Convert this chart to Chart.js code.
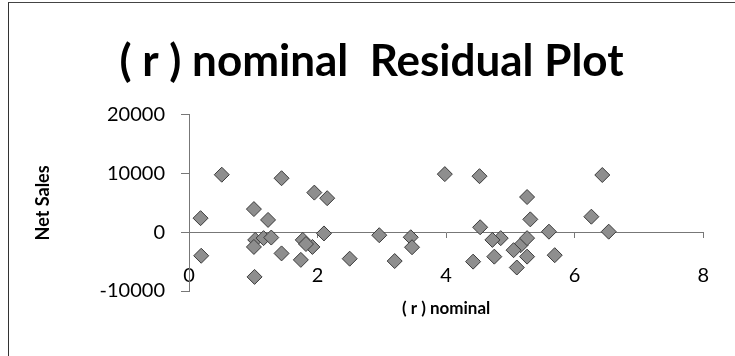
<!DOCTYPE html>
<html>
<head>
<meta charset="utf-8">
<script src="https://cdn.jsdelivr.net/npm/chart.js@4.4.1/dist/chart.umd.min.js"></script>
<style>
  body { margin: 0; background: #fff; }
  #wrap { position: relative; width: 735px; height: 356px; }
  #frame {
    position: absolute; left: 8px; top: 2px; right: 0; bottom: 0;
    border-left: 1px solid #333; border-top: 1px solid #444;
    pointer-events: none;
  }
</style>
</head>
<body>
<div id="wrap">
  <canvas id="chart" width="735" height="356"></canvas>
  <div id="frame"></div>
</div>
<script>
const chartTitle = "( r ) nominal  Residual Plot";
const xTitle = "( r ) nominal";
const yTitle = "Net Sales";

// residual points
const nominal = [
  0.18, 0.19, 0.51, 1.01, 1.23, 1.02, 1.03, 1.01, 1.16, 1.28,
  1.44, 1.44, 1.95, 2.15, 2.10, 1.74, 1.77, 1.92, 1.82, 2.50,
  2.96, 3.45, 3.47, 3.20, 3.98, 4.52, 4.53, 4.42, 4.75, 4.85,
  4.72, 5.10, 5.16, 5.26, 5.26, 5.05, 5.26, 5.31, 5.60, 5.69,
  6.26, 6.43, 6.53
];
const residuals = [
  2400, -4000, 9800, 3950, 2100, -7600, -1300, -2500, -1000, -900,
  9200, -3600, 6750, 5800, -200, -4700, -1300, -2500, -2000, -4500,
  -500, -850, -2550, -4900, 9900, 9550, 850, -5000, -4150, -1000,
  -1300, -6000, -2200, -1000, -4150, -3050, 6000, 2200, 100, -3900,
  2650, 9750, 100
];
const xMin = 0, xMax = 8, xStep = 2;
const yMin = -10000, yMax = 20000, yStep = 10000;

const points = nominal.map((x, i) => ({ x: x, y: residuals[i] }));

const font = "Lato, 'Open Sans', sans-serif";

const config = {
  type: "scatter",
  data: {
    datasets: [
      {
        label: "Residuals",
        data: points,
        pointStyle: "rectRot",
        pointRadius: 7.5,
        backgroundColor: "#8e8e8e",
        borderColor: "#3a3a3a",
        borderWidth: 1,
      },
    ],
  },
  options: {
    responsive: false,
    animation: false,
    devicePixelRatio: 1,
    layout: { padding: { left: 30, right: 22, top: 0, bottom: 65 } },
    plugins: {
      legend: { display: false },
      tooltip: { enabled: false },
      title: {
        display: true,
        text: chartTitle,
        color: "#000",
        font: { family: font, size: 44, weight: "bold" },
        padding: { top: 35, bottom: 27 },
      },
    },
    scales: {
      x: {
        type: "linear",
        position: { y: 0 },
        min: xMin,
        max: xMax,
        border: { display: true, color: "#777", width: 1 },
        grid: { drawOnChartArea: false, drawTicks: true, tickLength: 5, color: "#777" },
        ticks: {
          stepSize: xStep,
          padding: 26,
          color: "#000",
          font: { family: font, size: 20 },
          maxRotation: 0,
        },
        title: {
          display: true,
          text: xTitle,
          color: "#000",
          font: { family: font, size: 17, weight: "bold" },
          padding: { top: -15, bottom: 0 },
        },
      },
      y: {
        min: yMin,
        max: yMax,
        border: { display: true, color: "#777", width: 1 },
        grid: { drawOnChartArea: false, drawTicks: true, tickLength: 8, color: "#777" },
        ticks: {
          stepSize: yStep,
          padding: 16,
          color: "#000",
          font: { family: font, size: 20 },
          callback: (v) => String(v),
        },
        title: {
          display: true,
          text: yTitle,
          color: "#000",
          font: { family: font, size: 18, weight: "bold" },
          padding: { top: 2, bottom: 0 },
        },
        afterFit: (scale) => { scale.width = 159; },
      },
    },
  },
};

new Chart(document.getElementById("chart").getContext("2d"), config);
</script>
</body>
</html>
